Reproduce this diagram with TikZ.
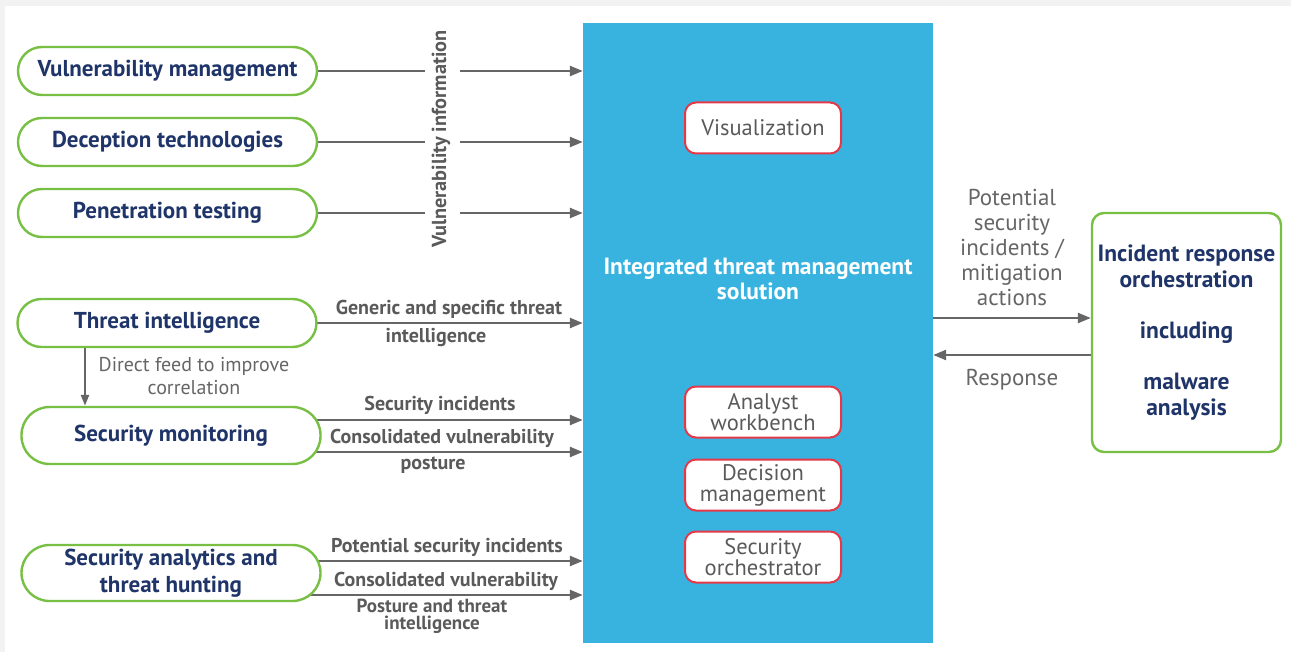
\documentclass[tikz,border=0pt]{standalone}
\usepackage{fontspec}
\setmainfont{PT Sans}
\usetikzlibrary{arrows.meta}
\definecolor{navy}{HTML}{1F3468}
\definecolor{grn}{HTML}{78C044}
\definecolor{arrg}{HTML}{666666}
\definecolor{lblg}{HTML}{5A5A5A}
\definecolor{bluebg}{HTML}{38B3DF}
\definecolor{redb}{HTML}{E5394A}
\definecolor{bggray}{HTML}{F2F2F2}
\pgfdeclarelayer{back}
\pgfdeclarelayer{bg}
\pgfsetlayers{back,bg,main}
\begin{document}
\begin{tikzpicture}[x=1pt,y=-1pt,
  pill/.style={draw=grn, line width=2.4pt, fill=white, rounded corners=#1,
    font=\fontsize{23}{27}\selectfont\bfseries, text=navy, align=center,
    minimum width=299pt, inner sep=0pt},
  redbox/.style={draw=redb, line width=2pt, fill=white, rounded corners=11pt,
    font=\fontsize{22.5}{21}\selectfont, text=lblg, align=center,
    minimum width=156pt, minimum height=51pt, inner sep=0pt},
  lbl/.style={font=\fontsize{20}{22}\selectfont\bfseries, text=lblg, inner sep=0pt},
  note/.style={font=\fontsize{20}{23}\selectfont, text=arrg, align=center, inner sep=0pt},
  ln/.style={draw=arrg, line width=2.4pt},
  arr/.style={ln, -{Triangle[length=13pt,width=10pt]}}
]
\useasboundingbox (0,0) rectangle (1291,652);
\begin{pgfonlayer}{back}
\fill[bggray] (0,0) rectangle (1291,652);
\fill[white] (5,6) rectangle (1291,652);
\end{pgfonlayer}

% central block
\node[fill=bluebg, minimum width=350pt, minimum height=620pt, inner sep=0pt] (itm) at (758,333) {};
\node[font=\fontsize{23.5}{25}\selectfont\bfseries, text=white, align=center] (itmtxt) at (758,279) {Integrated threat management\\solution};
\node[redbox] (vis) at (763,128) {Visualization};
\node[redbox] (aw) at (763,412) {Analyst\\workbench};
\node[redbox] (dm) at (763,485) {Decision\\management};
\node[redbox] (so) at (763,557) {Security\\orchestrator};

% left sources
\node[pill=24pt, minimum height=48pt] (vm) at (167.5,71) {Vulnerability management};
\node[pill=24pt, minimum height=48pt] (dt) at (167.5,142) {Deception technologies};
\node[pill=24pt, minimum height=48pt] (pt) at (167.5,213) {Penetration testing};
\node[pill=24pt, minimum height=48pt] (ti) at (167,323) {Threat intelligence};
\node[pill=28pt, minimum height=57pt] (sm) at (171,435.5) {Security monitoring};
\node[pill=28pt, minimum height=56pt] (sa) at (171,573) {Security analytics and\\threat hunting};

% right box
\node[draw=grn, line width=2.4pt, fill=white, rounded corners=12pt, minimum width=189pt,
  minimum height=239pt, inner sep=0pt, align=center, text=navy,
  font=\fontsize{23.5}{25.7}\selectfont\bfseries] (ir) at (1186.5,332.5)
  {Incident response\\orchestration\\[25.7pt]including\\[25.7pt]malware\\analysis};

% labels
\node[lbl, rotate=90, font=\fontsize{20.3}{22}\selectfont\bfseries] (vinfo) at (441,139) {Vulnerability information};
\coordinate (gl) at (425,0);
\coordinate (gr) at (460,0);
\node[lbl] (l1) at (449,309) {Generic and specific threat};
\node[lbl] (l2) at (436,338) {intelligence};
\node[note] (l3) at (194,376.5) {Direct feed to improve\\correlation};
\node[lbl] (l4) at (440,405) {Security incidents};
\node[lbl] (l5) at (442,438) {Consolidated vulnerability};
\node[lbl] (l6) at (433,465) {posture};
\node[lbl] (l7) at (447,547) {Potential security incidents};
\node[lbl] (l8) at (446,581) {Consolidated vulnerability};
\node[lbl, align=center, font=\fontsize{19}{17}\selectfont\bfseries] (l9) at (432,616) {Posture and threat\\intelligence};
\node[note, font=\fontsize{23}{25.2}\selectfont] (l10) at (1012,247.5) {Potential\\security\\incidents /\\mitigation\\actions};
\node[note, font=\fontsize{23}{24}\selectfont] (l11) at (1012,380) {Response};

\coordinate (r1) at ([yshift=14.5pt]ir.west);
\coordinate (r2) at ([yshift=-22.5pt]ir.west);
\coordinate (sm1) at ([yshift=15.5pt]sm.center);
\coordinate (sm2) at ([yshift=-16.5pt]sm.center);
\coordinate (sa1) at ([yshift=12pt]sa.center);
\coordinate (sa2) at ([yshift=-22pt]sa.center);
\coordinate (tid) at ([xshift=-82pt]ti.center);

\begin{pgfonlayer}{bg}
\foreach \n in {vm,dt,pt}{
  \draw[ln] (\n.center) -- (\n.center -| gl);
  \draw[arr] (\n.center -| gr) -- (\n.center -| itm.west);
}
\draw[arr] (ti.center) -- (ti.center -| itm.west);
\draw[arr, -{Triangle[length=11pt,width=8pt]}] (tid) -- (tid |- sm.north);
\draw[arr] (sm1) -- (sm1 -| itm.west);
\draw[arr] (sm2) -- (sm2 -| itm.west);
\draw[arr] (sa1) -- (sa1 -| itm.west);
\draw[arr] (sa2) -- (sa2 -| itm.west);
\draw[arr] (r1 -| itm.east) -- (r1);
\draw[arr] (r2) -- (r2 -| itm.east);
\end{pgfonlayer}
\end{tikzpicture}
\end{document}
